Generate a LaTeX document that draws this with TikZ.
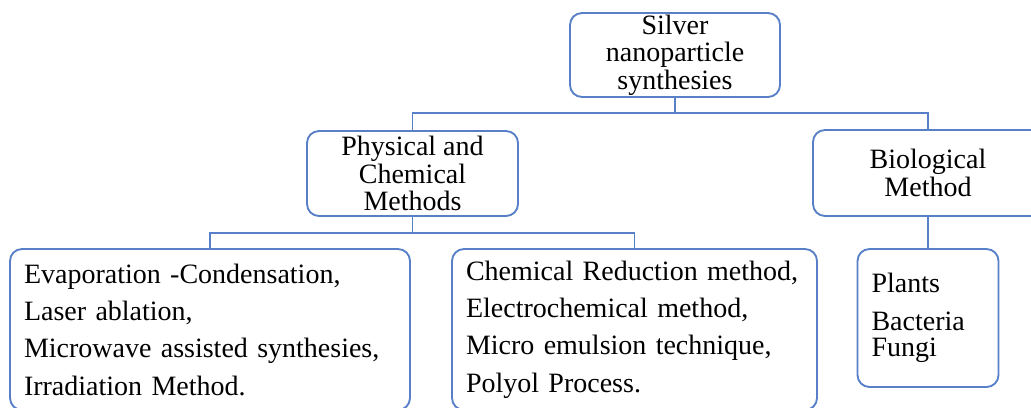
\documentclass[tikz,border=0pt]{standalone}
\usepackage{fontspec}
\setmainfont{Liberation Serif}
\definecolor{lineblue}{RGB}{88,128,200}
\tikzset{
  box/.style={draw=lineblue, line width=1.4pt, rounded corners=9pt, align=center, inner sep=0pt,
    font=\fontsize{21}{20.5}\selectfont},
  listbox/.style={box, align=left, inner xsep=10.5pt, font=\fontsize{21}{28}\selectfont},
  link/.style={draw=lineblue, line width=1.4pt}
}

\begin{document}
\begin{tikzpicture}[x=0.75pt, y=-0.75pt]
\useasboundingbox (0,0) rectangle (1031,407);
\node [box, minimum width=157.5pt, minimum height=63pt] (root) at (675,55) {Silver\\nanoparticle\\synthesies};
\node [box, minimum width=158.25pt, minimum height=63.75pt] (phys) at (412.5,173.5) {Physical and\\Chemical\\Methods};
\node [box, minimum width=172.5pt, minimum height=64.5pt] (bio) at (928,173) {Biological\\Method};
\node [listbox, text width=279pt, minimum height=120.75pt] (evap) at (210,329.5)
  {Evaporation -Condensation,\\Laser ablation,\\Microwave assisted synthesies,\\Irradiation Method.};
\node [listbox, text width=252.75pt, minimum height=120.75pt] (chem) at (634.5,329.5)
  {Chemical Reduction method,\\Electrochemical method,\\Micro emulsion technique,\\Polyol Process.};
\node [listbox, text width=84.75pt, minimum height=103.5pt, font=\fontsize{21}{19.5}\selectfont] (organisms) at (928,318)
  {Plants\\[9pt]Bacteria\\Fungi};
\coordinate (rootJoin) at (675,113);
\coordinate (physJoin) at (412.5,233);

\draw [link] (root.south) -- (rootJoin);
\draw [link] (phys.north) |- (rootJoin) -| (bio.north);
\draw [link] (phys.south) -- (physJoin);
\draw [link] (evap.north) |- (physJoin) -| (chem.north);
\draw [link] (bio.south) -- (organisms.north);
\end{tikzpicture}
\end{document}
